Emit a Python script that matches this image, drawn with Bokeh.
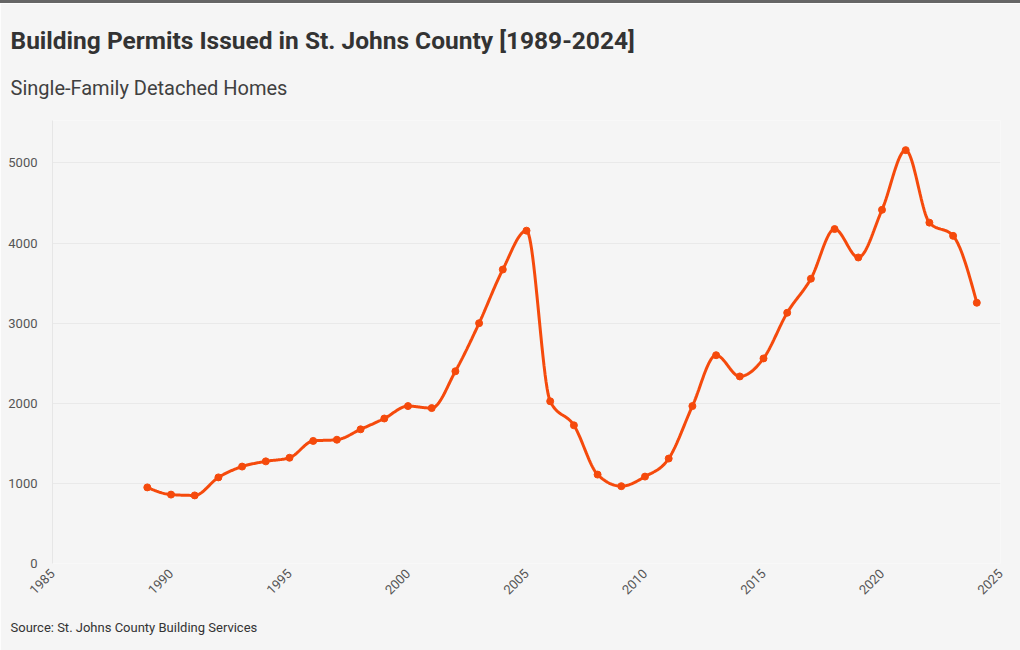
import numpy as np
from math import pi
from bokeh.plotting import figure
from bokeh.models import FixedTicker, Range1d, Title, Div
from bokeh.layouts import column
from bokeh.embed import file_html
from bokeh.resources import INLINE

# ---------------- data ----------------
years = [1989, 1990, 1991, 1992, 1993, 1994, 1995, 1996, 1997, 1998, 1999, 2000,
         2001, 2002, 2003, 2004, 2005, 2006, 2007, 2008, 2009, 2010, 2011, 2012,
         2013, 2014, 2015, 2016, 2017, 2018, 2019, 2020, 2021, 2022, 2023, 2024]
permits = [950, 860, 850, 1075, 1210, 1275, 1320, 1530, 1545, 1675, 1810, 1965,
           1940, 2400, 3000, 3670, 4155, 2025, 1725, 1110, 965, 1085, 1310, 1965,
           2600, 2335, 2560, 3130, 3555, 4175, 3820, 4415, 5160, 4255, 4090, 3255]
x_ticks = [1985, 1990, 1995, 2000, 2005, 2010, 2015, 2020, 2025]
y_ticks = [0, 1000, 2000, 3000, 4000, 5000]

title_text = "Building Permits Issued in St. Johns County [1989-2024]"
subtitle_text = "Single-Family Detached Homes"
source_text = "Source: St. Johns County Building Services"

# ------------- monotone-x curve (d3 style) -------------
def monotone_curve(xs, ys, n=24):
    xs = np.asarray(xs, float)
    ys = np.asarray(ys, float)
    m = len(xs)
    h = np.diff(xs)
    s = np.diff(ys) / h
    t = np.zeros(m)
    for i in range(1, m - 1):
        h0, h1 = h[i - 1], h[i]
        s0, s1 = s[i - 1], s[i]
        p = (s0 * h1 + s1 * h0) / (h0 + h1)
        t[i] = (np.sign(s0) + np.sign(s1)) * min(abs(s0), abs(s1), 0.5 * abs(p))
    t[0] = (3 * s[0] - t[1]) / 2
    t[-1] = (3 * s[-1] - t[-2]) / 2
    cx, cy = [], []
    u = np.linspace(0, 1, n)
    for i in range(m - 1):
        x0, x1 = xs[i], xs[i + 1]
        y0, y1 = ys[i], ys[i + 1]
        dx = (x1 - x0) / 3
        P = [(x0, y0), (x0 + dx, y0 + dx * t[i]), (x1 - dx, y1 - dx * t[i + 1]), (x1, y1)]
        b = [(1 - u) ** 3, 3 * (1 - u) ** 2 * u, 3 * (1 - u) * u ** 2, u ** 3]
        bx = sum(b[k] * P[k][0] for k in range(4))
        by = sum(b[k] * P[k][1] for k in range(4))
        if i > 0:
            bx, by = bx[1:], by[1:]
        cx.extend(bx)
        cy.extend(by)
    return cx, cy

curve_x, curve_y = monotone_curve(years, permits)

# ---------------- figure ----------------
BG = "#f5f5f5"
LINE = "#f54a0c"
FONT = "Roboto"

p = figure(width=1020, height=647, output_backend="svg", toolbar_location=None,
           x_range=Range1d(1985, 2025), y_range=Range1d(0, 5530),
           min_border_left=52, min_border_right=20, min_border_top=117,
           min_border_bottom=87)
p.background_fill_color = BG
p.border_fill_color = BG
p.outline_line_color = None

p.xgrid.grid_line_color = None
p.ygrid.grid_line_color = "#e9e9e9"
p.ygrid.grid_line_width = 1

p.yaxis.ticker = FixedTicker(ticks=y_ticks)
p.xaxis.ticker = FixedTicker(ticks=x_ticks)
p.xaxis.major_label_orientation = pi / 4

for ax in (p.xaxis[0], p.yaxis[0]):
    ax.major_tick_line_color = None
    ax.minor_tick_line_color = None
    ax.major_label_text_font = FONT
    ax.major_label_text_font_size = "13px"
    ax.major_label_text_color = "#555555"
p.xaxis.axis_line_color = None
p.yaxis.axis_line_color = "#e6e6e6"
p.yaxis.major_label_standoff = 9
p.xaxis.major_label_standoff = 2

p.line(curve_x, curve_y, line_color=LINE, line_width=3)
p.scatter(years, permits, size=7, fill_color=LINE, line_color=LINE)

# ---------------- texts ----------------
p.add_layout(Title(text=subtitle_text, align="left", offset=-42, standoff=42,
                   text_font=FONT, text_font_size="20px", text_font_style="normal",
                   text_color="#404040"), "above")
p.add_layout(Title(text=title_text, align="left", offset=-42, standoff=-5,
                   text_font=FONT, text_font_size="24.5px", text_font_style="bold",
                   text_color="#333333"), "above")
p.add_layout(Title(text=source_text, align="left", offset=-42, standoff=32,
                   text_font=FONT, text_font_size="13px", text_font_style="normal",
                   text_color="#333333"), "below")

top_bar = Div(text="", width=1020, height=3, margin=0,
              styles={"background-color": "#666666"})

layout = column(top_bar, p, spacing=0)
open("out.html", "w").write(file_html(layout, INLINE))
